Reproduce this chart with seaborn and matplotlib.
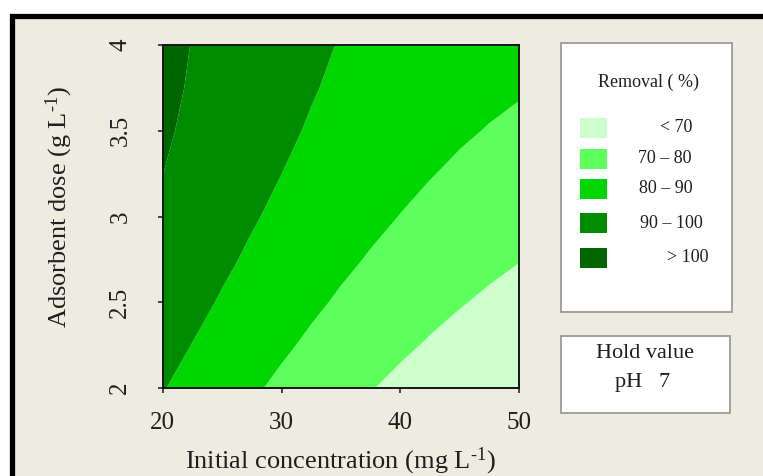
import numpy as np
import pandas as pd
import matplotlib
matplotlib.use("Agg")
import matplotlib.pyplot as plt
import seaborn as sns
from matplotlib.patches import Rectangle

conc = [20, 22.5, 25, 27.5, 30, 32.5, 35, 37.5, 40, 42.5, 45, 47.5, 50]   # mg/L
dose = [2.0, 2.25, 2.5, 2.75, 3.0, 3.25, 3.5, 3.75, 4.0]                   # g/L
removal_d200 = [90.40, 87.21, 84.13, 81.16, 78.30, 75.55, 72.91, 70.38, 67.96, 65.66, 63.46, 61.37, 59.40]
removal_d225 = [92.92, 89.84, 86.88, 84.02, 81.28, 78.65, 76.13, 73.72, 71.41, 69.22, 67.15, 65.18, 63.32]
removal_d250 = [95.14, 92.17, 89.31, 86.57, 83.93, 81.41, 79.00, 76.71, 74.53, 72.47, 70.51, 68.67, 66.94]
removal_d275 = [97.07, 94.20, 91.44, 88.80, 86.28, 83.87, 81.57, 79.40, 77.35, 75.40, 73.57, 71.87, 70.27]
removal_d300 = [98.71, 95.92, 93.27, 90.72, 88.30, 86.01, 83.83, 81.77, 79.83, 78.02, 76.33, 74.76, 73.31]
removal_d325 = [100.05, 97.35, 94.78, 92.33, 90.02, 87.83, 85.77, 83.83, 82.02, 80.33, 78.78, 77.35, 76.05]
removal_d350 = [101.09, 98.47, 95.99, 93.63, 91.42, 89.33, 87.38, 85.56, 83.89, 82.33, 80.92, 79.64, 78.49]
removal_d375 = [101.84, 99.30, 96.88, 94.62, 92.50, 90.51, 88.68, 86.98, 85.43, 84.02, 82.75, 81.62, 80.64]
removal_d400 = [102.30, 99.81, 97.47, 95.30, 93.26, 91.38, 89.66, 88.08, 86.66, 85.40, 84.27, 83.31, 82.50]

levels = [0, 70, 80, 90, 100, 200]
level_labels = ["< 70", "70 \u2013 80", "80 \u2013 90", "90 \u2013 100", "> 100"]
colors = ["#CCFFCC", "#5CFF5C", "#00D600", "#008C00", "#006600"]

xticks = [20, 30, 40, 50]
xtick_labels = ["20", "30", "40", "50"]
yticks = [2, 2.5, 3, 3.5, 4]
ytick_labels = ["2", "2.5", "3", "3.5", "4"]

# ---- style ----
sns.set_theme(style="ticks")
plt.rcParams["font.family"] = ["Liberation Serif", "DejaVu Serif"]
plt.rcParams["mathtext.fontset"] = "custom"
plt.rcParams["mathtext.rm"] = "Liberation Serif"
plt.rcParams["mathtext.default"] = "regular"

W, H = 763, 476
fig = plt.figure(figsize=(W / 100, H / 100), dpi=100, facecolor="white")

def fx(px):
    return px / W

def fy(py):
    return 1 - py / H

TXT = "#1e1e1e"
BEIGE = "#EEEBE0"

# beige panel with black frame on top and left
fig.patches.append(Rectangle((fx(12), -0.2), 2.0, fy(16.3) + 0.2,
                             transform=fig.transFigure, facecolor=BEIGE,
                             edgecolor="black", linewidth=3.8, zorder=-10))

# ---- contour plot ----
ax = fig.add_axes([fx(162.7), fy(388), fx(519.3) - fx(162.7), fy(45) - fy(388)])
grid = pd.DataFrame([removal_d200, removal_d225, removal_d250, removal_d275, removal_d300,
                     removal_d325, removal_d350, removal_d375, removal_d400],
                    index=dose, columns=conc)
X, Y = np.meshgrid(grid.columns.values, grid.index.values)
ax.contourf(X, Y, grid.values, levels=levels, colors=colors, antialiased=True)
ax.set_xlim(20, 50)
ax.set_ylim(2, 4)
for s in ax.spines.values():
    s.set_linewidth(1.4)
    s.set_color("#151515")
    s.set_zorder(5)
ax.set_xticks(xticks)
ax.set_xticklabels(xtick_labels)
ax.set_yticks(yticks)
ax.set_yticklabels(ytick_labels, rotation=90, va="center")
ax.tick_params(axis="both", direction="out", length=3.6, width=1.1,
               colors="#151515", labelsize=18, labelcolor=TXT)
ax.tick_params(axis="x", pad=14)
ax.tick_params(axis="y", pad=19)

fig.text(fx(340), fy(468), r"Initial concentration (mg L$^{\text{-}1}$)", ha="center",
         va="baseline", fontsize=19, color=TXT)
fig.text(fx(59), fy(207), r"Adsorbent dose (g L$^{\text{-}1}$)", ha="center",
         va="center", rotation=90, fontsize=19, color=TXT)

# ---- legend box ----
lx0, lx1, ly0, ly1 = 560.7, 731.7, 43.3, 311.7
fig.patches.append(Rectangle((fx(lx0), fy(ly1)), fx(lx1) - fx(lx0), fy(ly0) - fy(ly1),
                             transform=fig.transFigure, facecolor="white",
                             edgecolor="#9a9a9a", linewidth=1.3, zorder=1))
fig.text(fx(648), fy(82), "Removal ( %)", ha="center", va="center",
         fontsize=13, color=TXT, zorder=3)
sw_y = [128, 158.5, 189, 223, 258]
lab_x = [676, 665, 666, 671, 688]
for c, lab, yy, xx in zip(colors, level_labels, sw_y, lab_x):
    fig.patches.append(Rectangle((fx(580), fy(yy + 10)), fx(607) - fx(580), fy(yy - 10) - fy(yy + 10),
                                 transform=fig.transFigure, facecolor=c,
                                 edgecolor="none", zorder=2))
    fig.text(fx(xx), fy(yy), lab, ha="center", va="center", fontsize=13,
             color=TXT, zorder=3)

# ---- hold value box ----
hx0, hx1, hy0, hy1 = 560.7, 730, 336, 412.7
fig.patches.append(Rectangle((fx(hx0), fy(hy1)), fx(hx1) - fx(hx0), fy(hy0) - fy(hy1),
                             transform=fig.transFigure, facecolor="white",
                             edgecolor="#9a9a9a", linewidth=1.3, zorder=1))
fig.text(fx(645), fy(354), "Hold value", ha="center", va="center",
         fontsize=16, color=TXT, zorder=3)
fig.text(fx(643), fy(382), "pH   7", ha="center", va="center",
         fontsize=16, color=TXT, zorder=3)

fig.savefig("out.png", dpi=100, facecolor="white")
